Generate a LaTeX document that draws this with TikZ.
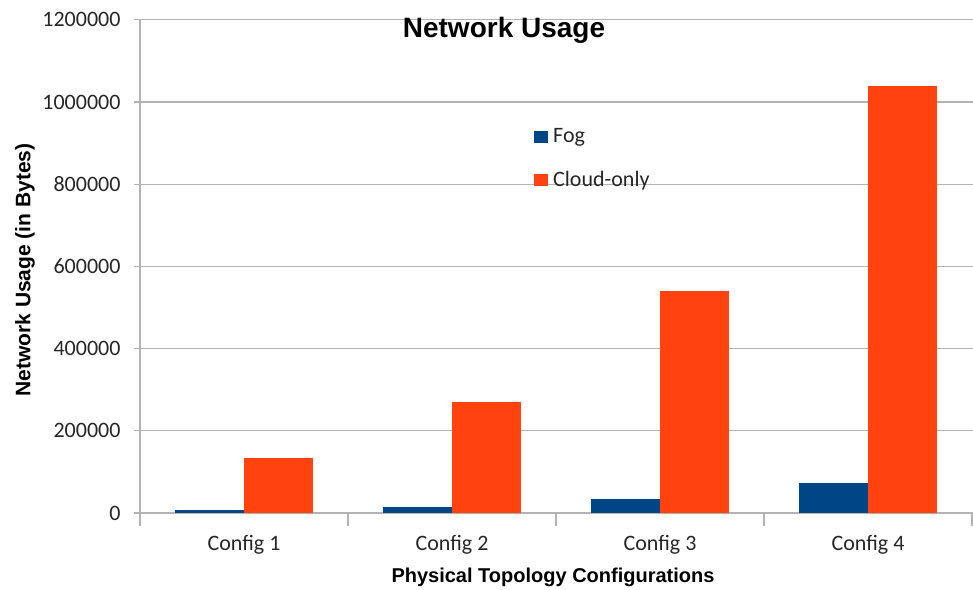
\documentclass[tikz,border=0pt]{standalone}
\usepackage{fontspec}
\usepackage{xcolor}
\setmainfont{Carlito}
\newfontfamily\headfont{Liberation Sans}
\definecolor{fogblue}{HTML}{004586}
\definecolor{cloudred}{HTML}{FF420E}
\definecolor{gridgray}{HTML}{B3B3B3}
\tikzset{
    gridline/.style={gridgray, line width=1.2pt},
    ticklabel/.style={font=\fontsize{22}{26}\selectfont, text=black!85},
    axislabel/.style={font=\headfont\bfseries\fontsize{20}{24}\selectfont},
    bar/.style={draw=none}
}
\begin{document}
\begin{tikzpicture}[x=1pt, y=1pt]
    \useasboundingbox (0, 0) rectangle (973, 589);
    % grid and y ticks
    \foreach \g/\t in {0/0, 200/200000, 400/400000, 600/600000, 800/800000, 1000/1000000, 1200/1200000} {
        \draw[gridline] (134, {76 + \g*0.411}) -- (973, {76 + \g*0.411});
        \node[ticklabel, anchor=east] (y\g) at (124, {76 + \g*0.411}) {\t};
    }
    \draw[gridline] (140, 76) -- (140, {76 + 1200*0.411});
    \foreach \i in {0, ..., 4}
        \draw[gridline] ({140 + 208*\i}, 76) -- ({140 + 208*\i}, 63);
    % bars
    \foreach \i/\f/\c in {1/7/135, 2/15/270, 3/33/540, 4/72/1040} {
        \fill[bar, fogblue] ({140 + 208*\i - 173}, 76) rectangle ({140 + 208*\i - 104}, {76 + \f*0.411});
        \fill[bar, cloudred] ({140 + 208*\i - 104}, 76) rectangle ({140 + 208*\i - 35}, {76 + \c*0.411});
        \node[ticklabel] (cfg\i) at ({140 + 208*\i - 104}, 44) {Config \i};
    }
    % legend
    \fill[fogblue] (534, 446) rectangle (548, 458);
    \node[ticklabel, anchor=west, inner sep=0pt] (fog) at (553, 452) {Fog};
    \fill[cloudred] (534, 403) rectangle (548, 415);
    \node[ticklabel, anchor=west, inner sep=0pt] (cloud) at (553, 408) {Cloud-only};
    % titles
    \node[font=\headfont\bfseries\fontsize{28}{32}\selectfont] (title) at (504, 559) {Network Usage};
    \node[axislabel] (xlabel) at (553, 12) {Physical Topology Configurations};
    \node[axislabel, rotate=90, font=\headfont\bfseries\fontsize{21}{24}\selectfont] (ylabel) at (25, 319) {Network Usage (in Bytes)};
\end{tikzpicture}
\end{document}
